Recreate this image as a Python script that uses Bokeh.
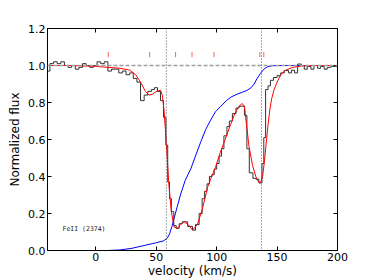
from bokeh.plotting import figure
from bokeh.models import Span, LinearAxis, FixedTicker, PrintfTickFormatter, Range1d
from bokeh.core.properties import value
from bokeh.embed import file_html
from bokeh.resources import INLINE

# observed spectrum (bin left edges, flux)
obs_v = [-40, -38, -35, -32, -29, -26, -23, -20, -17, -14, -11, -8, -5, -2, 1, 4, 7, 10, 13, 16,
         19, 22, 25, 28, 31, 34, 37, 40, 43, 46, 48.5, 51, 53.5, 56, 58, 59.5, 61, 62.5, 64.5, 66.5,
         69, 71.5, 76, 80, 82.5, 85.5, 88, 90, 92, 94, 96, 98, 100, 102, 104, 106, 108.5, 110.5, 113, 116,
         118.5, 123, 125, 127, 130, 132.5, 135, 137.5, 139, 140.5, 142.5, 144.5, 147, 150, 153, 156, 159.5, 162, 164.5, 167,
         170, 172.5, 175, 178, 180.5, 183.5, 186, 189, 191.5, 194.5, 200]
obs_f = [0.97, 1.01, 1.02, 1.01, 1.02, 1.00, 0.99, 1.00, 0.98, 0.99, 1.01, 1.00, 0.99, 1.00, 1.02, 1.01, 1.02, 0.97, 0.98, 0.98,
         0.96, 0.97, 0.95, 0.96, 0.93, 0.91, 0.81, 0.84, 0.86, 0.87, 0.88, 0.86, 0.81, 0.72, 0.57, 0.37, 0.28, 0.21, 0.135, 0.12,
         0.145, 0.155, 0.13, 0.11, 0.14, 0.20, 0.28, 0.32, 0.36, 0.40, 0.41, 0.44, 0.47, 0.51, 0.55, 0.62, 0.67, 0.70, 0.74, 0.77,
         0.78, 0.73, 0.55, 0.42, 0.39, 0.385, 0.365, 0.47, 0.61, 0.87, 0.89, 0.92, 0.935, 0.945, 0.96, 0.973, 0.96, 0.975, 0.96, 1.008,
         1.00, 0.98, 0.995, 0.98, 1.00, 0.985, 0.995, 0.98, 0.99, 0.995, 0.995]

# fitted model
fit_v = [-40, -20, 0, 10, 20, 28, 33, 37, 41, 44, 47, 50, 53.6, 55, 56.4, 57.5, 58.6, 60.5, 62.5, 64.7,
         67.4, 70, 73, 76.5, 80, 84, 88.2, 92.4, 95, 99, 103, 107, 111.5, 115, 118, 121, 123, 124, 126.8, 129.7,
         132.4, 135, 136.5, 138, 139.5, 141, 142.5, 144, 145.5, 147.5, 150, 153, 156, 159, 163, 170, 180, 200]
fit_f = [1.0, 1.0, 0.995, 0.99, 0.985, 0.975, 0.95, 0.91, 0.86, 0.84, 0.845, 0.86, 0.866, 0.84, 0.76, 0.66, 0.545, 0.35, 0.21, 0.128,
         0.12, 0.14, 0.155, 0.14, 0.11, 0.14, 0.225, 0.34, 0.385, 0.45, 0.53, 0.60, 0.68, 0.74, 0.775, 0.795, 0.78, 0.72, 0.56, 0.46,
         0.40, 0.367, 0.37, 0.40, 0.48, 0.58, 0.68, 0.76, 0.82, 0.87, 0.91, 0.95, 0.97, 0.98, 0.99, 0.997, 1.0, 1.0]

# second profile (blue)
blue_v = [-40, 10, 20, 30, 40, 50, 56, 59, 61, 63, 65, 67.5, 70, 74, 78.5, 83, 87, 91, 95, 99,
          103.5, 108, 112, 117, 121, 125, 128.5, 131, 133.5, 136, 139, 142, 146, 155, 200]
blue_f = [0.0, 0.0, 0.003, 0.012, 0.027, 0.042, 0.052, 0.065, 0.09, 0.13, 0.18, 0.24, 0.30, 0.38, 0.44, 0.52, 0.59, 0.655, 0.705, 0.75,
          0.78, 0.81, 0.83, 0.845, 0.855, 0.865, 0.88, 0.90, 0.93, 0.955, 0.98, 0.993, 0.999, 1.0, 1.0]

# component positions
comp_v = [10.3, 44.5, 66, 79.6, 97.8, 135.7, 139]
# vertical reference lines
ref_v = [58.4, 137.1]

x_ticks = [0, 50, 100, 150, 200]
y_ticks = [0.0, 0.2, 0.4, 0.6, 0.8, 1.0, 1.2]

p = figure(width=374, height=280, output_backend="svg", toolbar_location=None,
           x_range=Range1d(-40, 200), y_range=Range1d(0, 1.2),
           min_border_left=47, min_border_right=37, min_border_top=28, min_border_bottom=28,
           x_axis_label="velocity (km/s)", y_axis_label="Normalized flux")
p.grid.visible = False
p.outline_line_color = "black"
p.outline_line_width = 1
p.background_fill_color = "white"
p.border_fill_color = "white"

def style_axis(ax, labels=True):
    ax.major_tick_in = 4
    ax.major_tick_out = 0
    ax.minor_tick_line_color = None
    ax.axis_line_color = "black"
    ax.major_tick_line_color = "black"
    ax.major_label_text_font = "DejaVu Sans"
    ax.major_label_text_font_size = "11px"
    ax.major_label_text_color = "black" if labels else None
    ax.axis_label_text_font = "DejaVu Sans"
    ax.axis_label_text_font_size = "12px"
    ax.axis_label_text_font_style = "normal"
    ax.axis_label_text_color = "black"
    ax.major_label_standoff = 2

style_axis(p.xaxis[0])
style_axis(p.yaxis[0])
p.xaxis[0].ticker = FixedTicker(ticks=x_ticks)
p.yaxis[0].ticker = FixedTicker(ticks=y_ticks)
p.yaxis[0].formatter = PrintfTickFormatter(format="%.1f")
p.xaxis[0].axis_label_standoff = 0
p.yaxis[0].axis_label_standoff = 3

top = LinearAxis(ticker=FixedTicker(ticks=x_ticks))
right = LinearAxis(ticker=FixedTicker(ticks=y_ticks))
style_axis(top, labels=False)
style_axis(right, labels=False)
p.add_layout(top, "above")
p.add_layout(right, "right")

p.add_layout(Span(location=1.0, dimension="width", line_color="#a0a0a0", line_dash="4 2", line_width=1.3))
for rv in ref_v:
    p.add_layout(Span(location=rv, dimension="height", line_color="#555555", line_dash="1 2", line_width=1))

p.line(blue_v, blue_f, line_color="blue", line_width=1)
p.step(obs_v, obs_f, mode="after", line_color="#333333", line_width=1)
p.line(fit_v, fit_f, line_color="#ff0000", line_width=1)
p.segment(x0=comp_v, y0=[1.045] * len(comp_v), x1=comp_v, y1=[1.073] * len(comp_v),
          line_color="#ff6060", line_width=1)

p.text(x=[-27.6], y=[0.114], text=["FeII (2374)"], text_font=value("DejaVu Sans Mono"),
       text_font_size="6.5px", text_baseline="middle", text_align="left", text_color="#222222")

open("out.html", "w").write(file_html(p, INLINE))
